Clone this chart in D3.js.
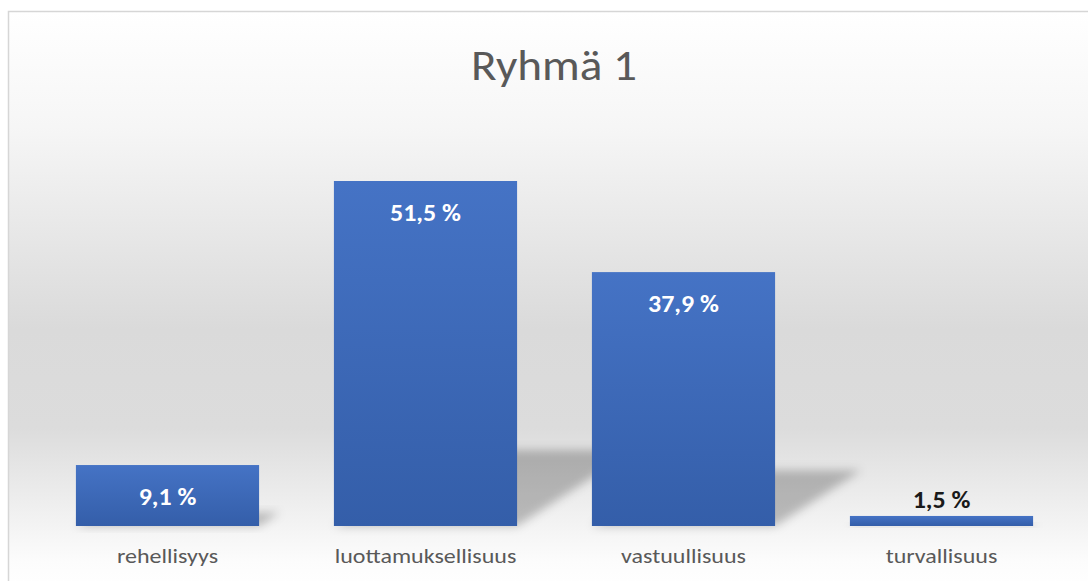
<!DOCTYPE html>
<html>
<head>
<meta charset="utf-8">
<script src="https://cdn.jsdelivr.net/npm/d3@7"></script>
<style>
html,body{margin:0;padding:0;background:#fff;overflow:hidden;}
svg{display:block;}
</style>
</head>
<body>
<svg id="chart" width="1088" height="581"></svg>
<script>
const title = "Ryhmä 1";
const categories = ["rehellisyys", "luottamuksellisuus", "vastuullisuus", "turvallisuus"];
const values = [9.1, 51.5, 37.9, 1.5];
const valueLabels = ["9,1 %", "51,5 %", "37,9 %", "1,5 %"];

const W = 1088, H = 581;
const svg = d3.select("#chart");
const defs = svg.append("defs");

// background gradient
const bg = defs.append("linearGradient").attr("id", "bgGrad")
  .attr("gradientUnits", "userSpaceOnUse").attr("x1", 0).attr("x2", 0).attr("y1", 11).attr("y2", 590);
[[0, "#ffffff"], [0.2, "#f6f6f6"], [0.55, "#dadada"], [0.72, "#dcdcdc"], [0.85, "#eeeeee"], [0.95, "#fcfcfc"], [1, "#ffffff"]]
  .forEach(([o, c]) => bg.append("stop").attr("offset", o).attr("stop-color", c));

const barGrad = defs.append("linearGradient").attr("id", "barGrad").attr("x1", 0).attr("x2", 0).attr("y1", 0).attr("y2", 1);
barGrad.append("stop").attr("offset", 0).attr("stop-color", "#4573c5");
barGrad.append("stop").attr("offset", 1).attr("stop-color", "#345ea9");

const blur = defs.append("filter").attr("id", "shBlur").attr("x", "-50%").attr("y", "-50%").attr("width", "200%").attr("height", "200%");
blur.append("feGaussianBlur").attr("stdDeviation", 5);

// chart frame
svg.append("rect").attr("x", 8.5).attr("y", 11.5).attr("width", W).attr("height", H)
  .attr("fill", "url(#bgGrad)").attr("stroke", "#d6d6d6").attr("stroke-width", 1.5);

const FONT = "Carlito, Calibri, Lato, 'Open Sans', sans-serif";
const stretch = sel => sel.each(function () {
  const len = this.getComputedTextLength();
  d3.select(this).attr("textLength", len * 1.2).attr("lengthAdjust", "spacingAndGlyphs");
});

// title
svg.append("text").attr("x", 554).attr("y", 80).attr("text-anchor", "middle")
  .attr("font-family", FONT)
  .attr("font-weight", 300).attr("font-size", 44).attr("fill", "#595959")
  .attr("textLength", 166).attr("lengthAdjust", "spacingAndGlyphs")
  .text(title);

const x = d3.scaleBand().domain(categories).range([38.5, 1070.5]).paddingInner(0.29).paddingOuter(0.145);
const y = d3.scaleLinear().domain([0, 51.5]).range([526, 181]);

const data = categories.map((c, i) => ({c, v: values[i], label: valueLabels[i]}));

// perspective shadows
svg.append("g").selectAll("path").data(data).join("path")
  .attr("filter", "url(#shBlur)")
  .attr("fill", "#000").attr("fill-opacity", 0.24)
  .attr("d", d => {
    const x0 = x(d.c), x1 = x(d.c) + x.bandwidth();
    const h = y(0) - y(d.v);
    const dx = h * 0.34, dy = h * 0.22;
    return `M${x0},${y(0)}L${x1},${y(0)}L${x1 + dx},${y(0) - dy}L${x0 + dx},${y(0) - dy}Z`;
  });

// bars
svg.append("g").selectAll("rect").data(data).join("rect")
  .attr("x", d => x(d.c)).attr("width", x.bandwidth())
  .attr("y", d => y(d.v)).attr("height", d => y(0) - y(d.v))
  .attr("fill", "url(#barGrad)");

// data labels
svg.append("g").selectAll("text").data(data).join("text")
  .attr("x", d => x(d.c) + x.bandwidth() / 2)
  .attr("y", d => (y(0) - y(d.v) > 40) ? y(d.v) + 40 : y(d.v) - 8)
  .attr("text-anchor", "middle")
  .attr("font-family", FONT)
  .attr("font-weight", 700).attr("font-size", 24)
  .attr("fill", d => (y(0) - y(d.v) > 40) ? "#ffffff" : "#1a1a1a")
  .text(d => d.label)
  .call(sel => sel.each(function () {
    const len = this.getComputedTextLength();
    d3.select(this).attr("textLength", len * 1.08).attr("lengthAdjust", "spacingAndGlyphs");
  }));

// category axis labels
const axis = d3.axisBottom(x).tickSize(0).tickPadding(0);
const ag = svg.append("g").attr("transform", `translate(0,${y(0)})`).call(axis);
ag.select(".domain").remove();
ag.selectAll("text")
  .attr("y", 0).attr("dy", 0).attr("transform", "translate(0,37)")
  .attr("font-family", FONT)
  .attr("font-size", 20).attr("fill", "#595959")
  .call(stretch);
</script>
</body>
</html>
